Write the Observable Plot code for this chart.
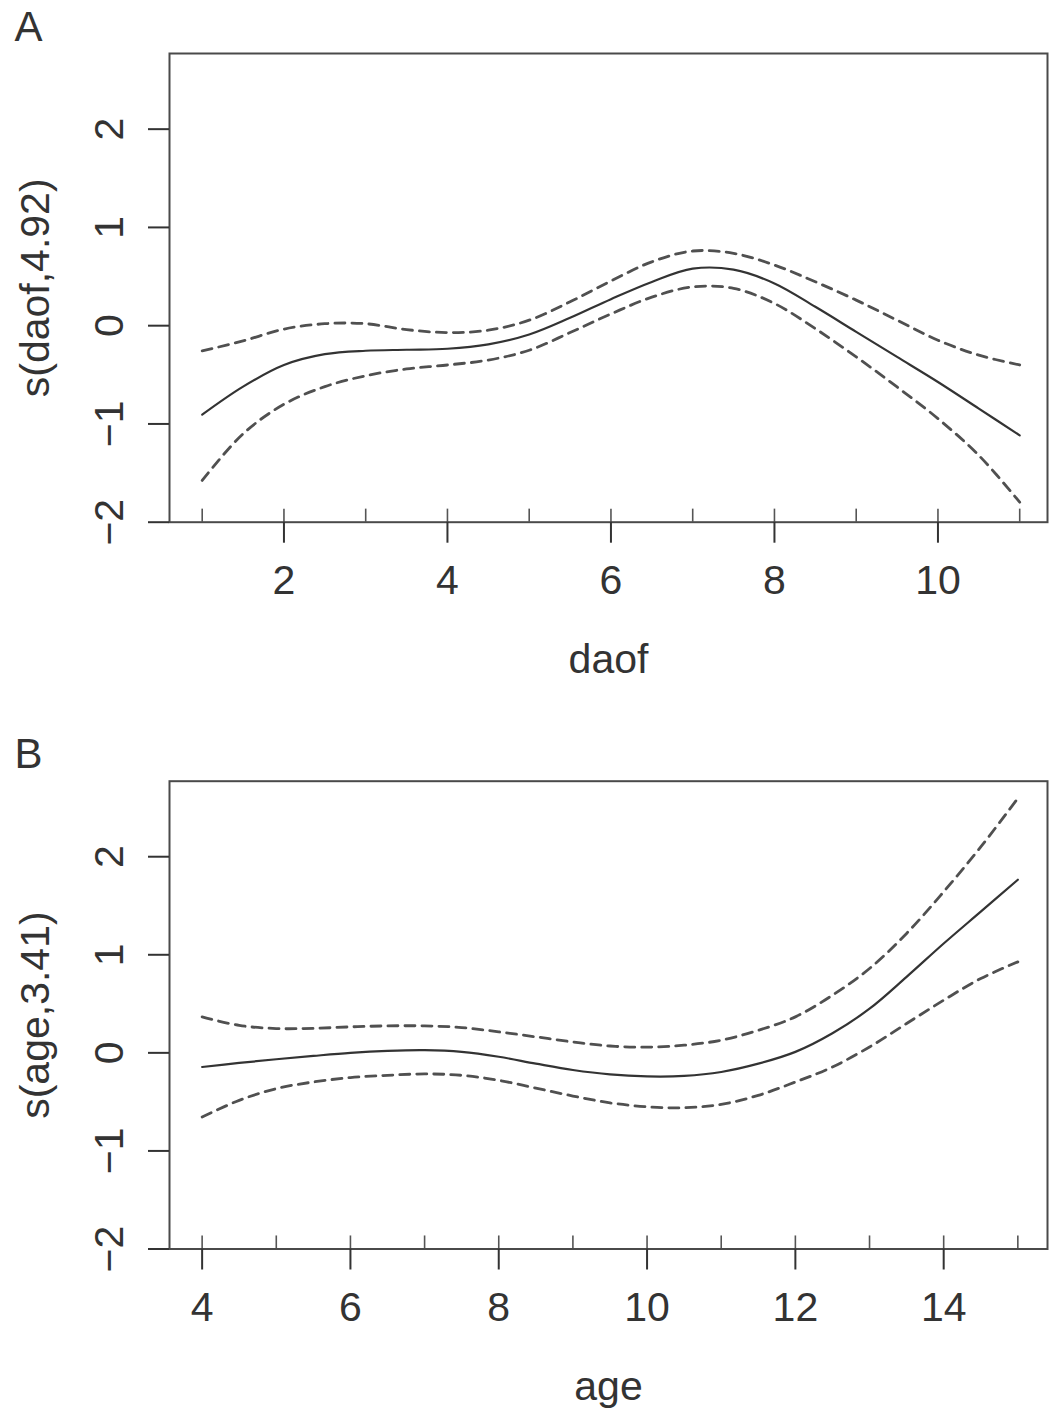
<!DOCTYPE html>
<html><head><meta charset="utf-8">
<script src="https://cdn.jsdelivr.net/npm/d3@7"></script>
<script src="https://cdn.jsdelivr.net/npm/@observablehq/plot@0.6"></script>
<style>body{margin:0;background:#fff;} svg{display:block;} #chart{width:1051px;}</style>
</head><body><div id="chart"></div>
<script>
// Panel A: s(daof, 4.92)
const daofX = [1,1.5,2,2.5,3,3.5,4,4.5,5,5.5,6,6.5,7,7.5,8,8.5,9,9.5,10,10.5,11];
const daofFit = [-0.905,-0.62,-0.40,-0.29,-0.255,-0.245,-0.235,-0.19,-0.09,0.08,0.27,0.445,0.58,0.57,0.43,0.192,-0.063,-0.318,-0.573,-0.844,-1.116];
const daofUpper = [-0.257,-0.155,-0.035,0.02,0.02,-0.04,-0.07,-0.046,0.056,0.243,0.455,0.65,0.76,0.736,0.617,0.447,0.26,0.056,-0.148,-0.30,-0.40];
const daofLower = [-1.575,-1.10,-0.80,-0.62,-0.51,-0.44,-0.40,-0.35,-0.25,-0.07,0.12,0.29,0.395,0.38,0.226,-0.03,-0.318,-0.624,-0.946,-1.32,-1.796];
const daofRug = [1,2,3,4,5,6,7,8,9,10,11];
const daofTicks = [2,4,6,8,10];

// Panel B: s(age, 3.41)
const ageX = [4,4.5,5,5.5,6,6.5,7,7.5,8,8.5,9,9.5,10,10.5,11,11.5,12,12.5,13,13.5,14,14.5,15];
const ageFit = [-0.144,-0.103,-0.065,-0.031,0.0,0.02,0.027,0.01,-0.04,-0.11,-0.175,-0.22,-0.24,-0.235,-0.195,-0.11,0.01,0.2,0.45,0.775,1.115,1.44,1.765];
const ageUpper = [0.367,0.28,0.248,0.25,0.265,0.275,0.275,0.258,0.214,0.163,0.111,0.07,0.058,0.078,0.129,0.23,0.367,0.588,0.86,1.218,1.643,2.10,2.596];
const ageLower = [-0.654,-0.484,-0.365,-0.297,-0.252,-0.229,-0.215,-0.229,-0.28,-0.36,-0.44,-0.51,-0.55,-0.56,-0.525,-0.433,-0.297,-0.144,0.06,0.299,0.537,0.758,0.928];
const ageRug = [4,5,6,7,8,9,10,11,12,13,14,15];
const ageTicks = [4,6,8,10,12,14];

const yTicks = [-2,-1,0,1,2];
const yDomain = [-2, 2.77];

function panel({letter, xs, fit, upper, lower, rug, xTicks, xDomain, xLabel, yLabel, height, marginTop, marginBottom}) {
  const rows = xs.map((x, i) => ({x, fit: fit[i], upper: upper[i], lower: lower[i]}));
  const fs = 41;
  return Plot.plot({
    width: 1051,
    height,
    marginTop,
    marginBottom,
    marginLeft: 169,
    marginRight: 4,
    style: {fontFamily: "'Liberation Sans', Arial, sans-serif", color: "#333", background: "#fff", overflow: "visible"},
    x: {domain: xDomain},
    y: {domain: yDomain},
    marks: [
      Plot.ruleX(rug, {x: d => d, y1: yDomain[0], y2: yDomain[0] + 0.133, stroke: "#555", strokeWidth: 1.6}),
      Plot.line(rows, {x: "x", y: "upper", curve: "catmull-rom", stroke: "#505050", strokeWidth: 2.8, strokeDasharray: "10,7"}),
      Plot.line(rows, {x: "x", y: "lower", curve: "catmull-rom", stroke: "#505050", strokeWidth: 2.8, strokeDasharray: "10,7"}),
      Plot.line(rows, {x: "x", y: "fit", curve: "catmull-rom", stroke: "#333", strokeWidth: 2.2}),
      Plot.frame({stroke: "#4a4a4a", strokeWidth: 2}),
      Plot.axisX({ticks: xTicks, tickSize: 21, tickPadding: 22, fontSize: fs, label: null, strokeWidth: 2}),
      Plot.axisY({ticks: yTicks, tickFormat: d3.format("d"), tickSize: 21, tickPadding: 26, tickRotate: -90, fontSize: fs, label: null, strokeWidth: 2}),
      Plot.text([yLabel], {text: d => d, frameAnchor: "left", rotate: -90, dx: -121, lineAnchor: "bottom", textAnchor: "middle", fontSize: fs, fill: "#333"}),
      Plot.text([xLabel], {text: d => d, frameAnchor: "bottom", dy: 151, lineAnchor: "bottom", textAnchor: "middle", fontSize: fs, fill: "#333"}),
      Plot.text([letter], {text: d => d, frameAnchor: "top-left", dx: -155, dy: -13, lineAnchor: "bottom", textAnchor: "start", fontSize: 42, fill: "#333"})
    ]
  });
}

const chart = document.getElementById("chart");
chart.append(panel({
  letter: "A", xs: daofX, fit: daofFit, upper: daofUpper, lower: daofLower, rug: daofRug,
  xTicks: daofTicks, xDomain: [0.6, 11.34], xLabel: "daof", yLabel: "s(daof,4.92)",
  height: 727, marginTop: 53, marginBottom: 205.3
}));
chart.append(panel({
  letter: "B", xs: ageX, fit: ageFit, upper: ageUpper, lower: ageLower, rug: ageRug,
  xTicks: ageTicks, xDomain: [3.56, 15.4], xLabel: "age", yLabel: "s(age,3.41)",
  height: 690, marginTop: 53.7, marginBottom: 168.5
}));
</script>
</body></html>
